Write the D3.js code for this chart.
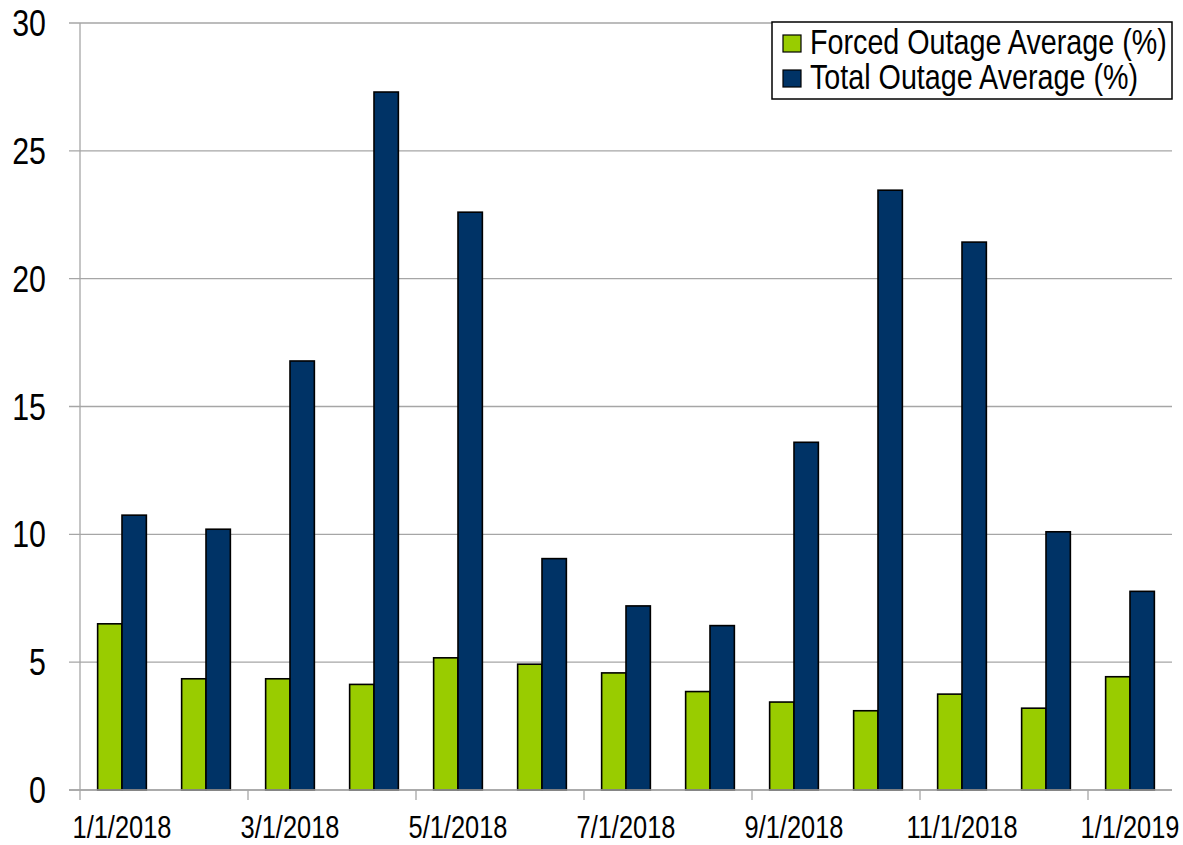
<!DOCTYPE html>
<head>
  <meta charset="utf-8">
  <script src="https://cdn.jsdelivr.net/npm/d3@7/dist/d3.min.js"></script>
  <style>
    body { margin:0; background:#fff; }
    text { font-family:"Liberation Sans",Arial,sans-serif; fill:#000; }
  </style>
</head>
<body>
<script>
var months = ["1/1/2018","2/1/2018","3/1/2018","4/1/2018","5/1/2018","6/1/2018","7/1/2018",
              "8/1/2018","9/1/2018","10/1/2018","11/1/2018","12/1/2018","1/1/2019"];
var forcedOutage = [6.5, 4.35, 4.35, 4.13, 5.17, 4.92, 4.58, 3.85, 3.44, 3.1, 3.75, 3.2, 4.43];
var totalOutage  = [10.75, 10.2, 16.78, 27.3, 22.6, 9.05, 7.2, 6.43, 13.6, 23.46, 21.43, 10.1, 7.77];
var seriesNames = ["Forced Outage Average (%)", "Total Outage Average (%)"];
var yTicks = [0, 5, 10, 15, 20, 25, 30];

var width = 1183, height = 845;
var margin = {top: 23, right: 11, bottom: 55, left: 80};
var colors = ["#99cc00", "#003366"];
var narrow = 0.82; // the original uses a condensed face, none installed here

function place(px, py) {
  return "translate(" + px + "," + py + ") scale(" + narrow + ",1)";
}

var svg = d3.select("body").append("svg")
  .attr("width", width)
  .attr("height", height);

var x = d3.scaleBand()
  .domain(months)
  .range([margin.left, width - margin.right])
  .paddingInner(0.42)
  .paddingOuter(0.21);

var xs = d3.scaleBand()
  .domain([0, 1])
  .range([0, x.bandwidth()]);

var y = d3.scaleLinear()
  .domain([0, 30])
  .range([height - margin.bottom, margin.top]);

// grid + y ticks
svg.append("g").selectAll("line").data(yTicks).enter().append("line")
  .attr("x1", margin.left - 11)
  .attr("x2", width - margin.right)
  .attr("y1", function(d) { return y(d); })
  .attr("y2", function(d) { return y(d); })
  .attr("stroke", "#a6a6a6")
  .attr("stroke-width", 1.3);

svg.append("line")
  .attr("x1", margin.left).attr("x2", margin.left)
  .attr("y1", y(30)).attr("y2", y(0))
  .attr("stroke", "#a6a6a6").attr("stroke-width", 1.3);

svg.append("g").selectAll("text").data(yTicks).enter().append("text")
  .attr("transform", function(d) { return place(46, y(d) + 13); })
  .attr("text-anchor", "end")
  .style("font-size", "37px")
  .text(function(d) { return d; });

// bars
var groups = svg.append("g").selectAll("g").data(months).enter().append("g")
  .attr("transform", function(d) { return "translate(" + x(d) + ",0)"; });

groups.selectAll("rect")
  .data(function(d, i) { return [forcedOutage[i], totalOutage[i]]; })
  .enter().append("rect")
  .attr("x", function(d, j) { return xs(j); })
  .attr("width", xs.bandwidth())
  .attr("y", function(d) { return y(d); })
  .attr("height", function(d) { return y(0) - y(d); })
  .attr("fill", function(d, j) { return colors[j]; })
  .attr("stroke", "#000")
  .attr("stroke-width", 1.6);

// x axis
var step = x.step();
var x0 = margin.left;
svg.append("line")
  .attr("x1", margin.left - 11).attr("x2", width - margin.right)
  .attr("y1", y(0)).attr("y2", y(0))
  .attr("stroke", "#a6a6a6").attr("stroke-width", 1.3);

var labelled = months.filter(function(d, i) { return i % 2 == 0; });

svg.append("g").selectAll("line").data(labelled).enter().append("line")
  .attr("x1", function(d, i) { return x0 + i * 2 * step; })
  .attr("x2", function(d, i) { return x0 + i * 2 * step; })
  .attr("y1", y(0)).attr("y2", y(0) + 10)
  .attr("stroke", "#a6a6a6").attr("stroke-width", 1.3);

svg.append("g").selectAll("text").data(labelled).enter().append("text")
  .attr("transform", function(d) { return place(x(d) + x.bandwidth() / 2, 838); })
  .attr("text-anchor", "middle")
  .style("font-size", "31px")
  .text(function(d) { return d; });

// legend
var legend = svg.append("g").attr("transform", "translate(772,22)");
legend.append("rect")
  .attr("width", 400).attr("height", 77)
  .attr("fill", "#fff").attr("stroke", "#000").attr("stroke-width", 1.5);

var items = legend.selectAll("g.item").data(seriesNames).enter().append("g")
  .attr("class", "item")
  .attr("transform", function(d, i) { return "translate(0," + (i * 35) + ")"; });

items.append("rect")
  .attr("x", 11).attr("y", 13)
  .attr("width", 18).attr("height", 17)
  .attr("fill", function(d, i) { return colors[i]; })
  .attr("stroke", "#000").attr("stroke-width", 1.2);

items.append("text")
  .attr("transform", place(38, 32))
  .style("font-size", "35px")
  .text(function(d) { return d; });
</script>
</body>
